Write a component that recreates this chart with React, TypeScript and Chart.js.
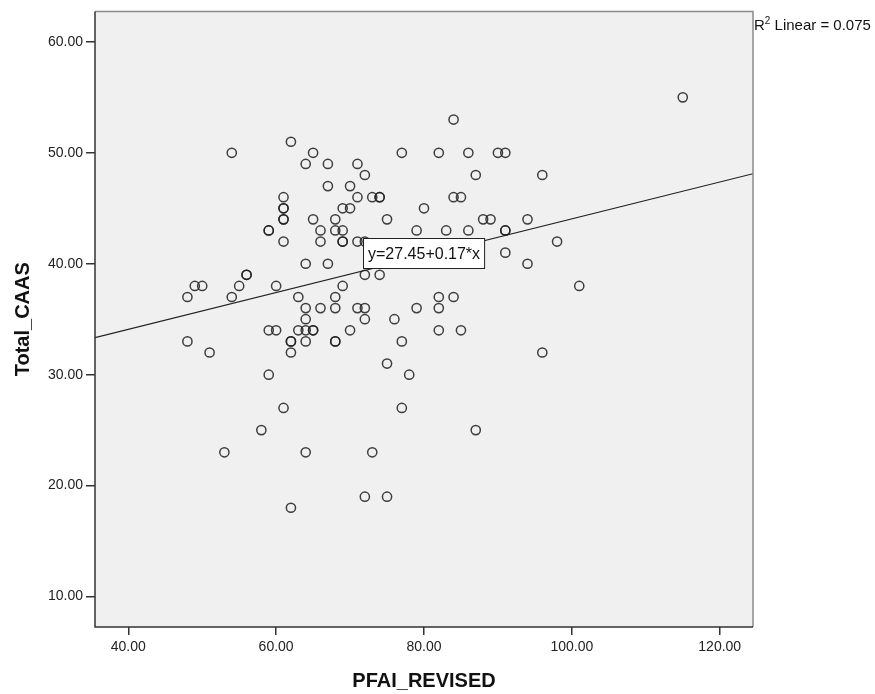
import { useEffect, useRef } from "react";
import { Chart, registerables } from "chart.js";

Chart.register(...registerables);

// PFAI_REVISED (x) and Total_CAAS (y), one entry per respondent
const pfai = [
  115,
  84,
  62,
  54, 65, 77, 82, 86, 90, 91,
  64, 67, 71,
  72, 87, 96,
  67, 70,
  61, 71, 73, 74, 74, 84, 85,
  61, 61, 69, 70, 80,
  61, 61, 65, 68, 75, 88, 89, 94,
  59, 59, 66, 68, 69, 79, 83, 86, 91, 91,
  61, 66, 69, 69, 71, 72, 98,
  91,
  64, 67, 94,
  56, 56, 72, 74,
  49, 50, 55, 60, 69, 101,
  48, 54, 63, 68, 82, 84,
  64, 66, 68, 71, 72, 79, 82,
  64, 72, 76,
  59, 60, 63, 64, 65, 65, 70, 82, 85,
  48, 62, 62, 64, 68, 68, 77,
  51, 62, 96,
  75,
  59, 78,
  61, 77,
  58, 87,
  53, 64, 73,
  72, 75,
  62,
];

const caas = [
  55,
  53,
  51,
  50, 50, 50, 50, 50, 50, 50,
  49, 49, 49,
  48, 48, 48,
  47, 47,
  46, 46, 46, 46, 46, 46, 46,
  45, 45, 45, 45, 45,
  44, 44, 44, 44, 44, 44, 44, 44,
  43, 43, 43, 43, 43, 43, 43, 43, 43, 43,
  42, 42, 42, 42, 42, 42, 42,
  41,
  40, 40, 40,
  39, 39, 39, 39,
  38, 38, 38, 38, 38, 38,
  37, 37, 37, 37, 37, 37,
  36, 36, 36, 36, 36, 36, 36,
  35, 35, 35,
  34, 34, 34, 34, 34, 34, 34, 34, 34,
  33, 33, 33, 33, 33, 33, 33,
  32, 32, 32,
  31,
  30, 30,
  27, 27,
  25, 25,
  23, 23, 23,
  19, 19,
  18,
];

const xTicks = [40, 60, 80, 100, 120];
const yTicks = [10, 20, 30, 40, 50, 60];
const xRange = [35.5, 124.5];
const yRange = [7.25, 62.75];

const fitIntercept = 27.45;
const fitSlope = 0.166;
const equationLabel = "y=27.45+0.17*x";
const rSquaredValue = "0.075";

const FONT = "'Liberation Sans', Arial, sans-serif";

export default function App() {
  const ref = useRef<HTMLCanvasElement>(null);

  useEffect(() => {
    document.body.style.margin = "0";
    if (!ref.current) return;

    const points = pfai.map((x, i) => ({ x, y: caas[i] }));
    const fitLine = xRange.map((x) => ({ x, y: fitIntercept + fitSlope * x }));

    const spssPlugin = {
      id: "spssDecor",
      beforeDraw(chart: any) {
        const { ctx, chartArea: a } = chart;
        ctx.save();
        ctx.fillStyle = "#f0f0f0";
        ctx.fillRect(a.left, a.top, a.right - a.left, a.bottom - a.top);
        ctx.restore();
      },
      afterDatasetsDraw(chart: any) {
        const { ctx, chartArea: a, scales } = chart;
        ctx.save();
        // frame
        ctx.lineWidth = 1.5;
        ctx.strokeStyle = "#8a8a8a";
        ctx.beginPath();
        ctx.moveTo(a.left, a.top);
        ctx.lineTo(a.right, a.top);
        ctx.lineTo(a.right, a.bottom);
        ctx.stroke();
        ctx.strokeStyle = "#333";
        ctx.beginPath();
        ctx.moveTo(a.left, a.top);
        ctx.lineTo(a.left, a.bottom);
        ctx.lineTo(a.right, a.bottom);
        ctx.stroke();

        // equation box on the fit line at the centre of the plot
        const cx = (a.left + a.right) / 2;
        const xv = scales.x.getValueForPixel(cx);
        const cy = scales.y.getPixelForValue(fitIntercept + fitSlope * xv);
        ctx.font = `16px ${FONT}`;
        const tw = ctx.measureText(equationLabel).width;
        const bw = tw + 9;
        const bh = 30;
        const bx = Math.round(cx - bw / 2) + 0.5;
        const by = Math.round(cy - bh / 2) - 2.5;
        ctx.fillStyle = "#ffffff";
        ctx.fillRect(bx, by, bw, bh);
        ctx.lineWidth = 1;
        ctx.strokeStyle = "#222";
        ctx.strokeRect(bx, by, bw, bh);
        ctx.fillStyle = "#111";
        ctx.textAlign = "center";
        ctx.textBaseline = "middle";
        ctx.fillText(equationLabel, bx + bw / 2, by + bh / 2 + 1);
        ctx.restore();
      },
      afterDraw(chart: any) {
        const { ctx, chartArea: a } = chart;
        ctx.save();
        ctx.fillStyle = "#111";
        ctx.textBaseline = "alphabetic";
        ctx.textAlign = "left";
        let x = a.right + 1;
        const base = a.top + 19;
        ctx.font = `15px ${FONT}`;
        ctx.fillText("R", x, base);
        x += ctx.measureText("R").width;
        ctx.font = `10px ${FONT}`;
        ctx.fillText("2", x, base - 6);
        x += ctx.measureText("2").width;
        ctx.font = `15px ${FONT}`;
        ctx.fillText(" Linear = " + rSquaredValue, x, base);
        ctx.restore();
      },
    };

    const chart = new Chart(ref.current, {
      type: "scatter",
      data: {
        datasets: [
          {
            type: "scatter",
            label: "Total_CAAS",
            data: points,
            pointStyle: "circle",
            pointRadius: 4.6,
            pointBorderWidth: 1.5,
            pointBorderColor: "rgba(30,30,30,0.85)",
            pointBackgroundColor: "rgba(0,0,0,0)",
            order: 1,
          },
          {
            type: "line",
            label: "Linear fit",
            data: fitLine,
            borderColor: "#222",
            borderWidth: 1.2,
            pointRadius: 0,
            fill: false,
            order: 2,
          },
        ],
      },
      options: {
        animation: false,
        responsive: true,
        maintainAspectRatio: false,
        layout: { padding: { top: 11, right: 122, left: 0, bottom: 0 } },
        plugins: {
          legend: { display: false },
          tooltip: { enabled: false },
        },
        scales: {
          x: {
            type: "linear",
            min: xRange[0],
            max: xRange[1],
            afterBuildTicks: (s: any) => {
              s.ticks = xTicks.map((v) => ({ value: v }));
            },
            afterFit: (s: any) => {
              s.height = 67;
            },
            ticks: {
              callback: (v: any) => Number(v).toFixed(2),
              font: { family: FONT, size: 14 },
              color: "#222",
              padding: 4,
              maxRotation: 0,
              autoSkip: false,
            },
            grid: {
              drawOnChartArea: false,
              drawTicks: true,
              tickLength: 8,
              color: "#333",
              lineWidth: 1.5,
            },
            border: { display: false },
            title: {
              display: true,
              text: "PFAI_REVISED",
              font: { family: FONT, size: 20, weight: "bold" },
              color: "#111",
              padding: { top: 0, bottom: 1 },
            },
          },
          y: {
            type: "linear",
            min: yRange[0],
            max: yRange[1],
            afterBuildTicks: (s: any) => {
              s.ticks = yTicks.map((v) => ({ value: v }));
            },
            afterFit: (s: any) => {
              s.width = 95;
            },
            ticks: {
              callback: (v: any) => Number(v).toFixed(2),
              font: { family: FONT, size: 14 },
              color: "#222",
              padding: 3,
              autoSkip: false,
            },
            grid: {
              drawOnChartArea: false,
              drawTicks: true,
              tickLength: 9,
              color: "#333",
              lineWidth: 1.5,
            },
            border: { display: false },
            title: {
              display: true,
              text: "Total_CAAS",
              font: { family: FONT, size: 20, weight: "bold" },
              color: "#111",
              padding: { top: 11, bottom: 0 },
            },
          },
        },
      },
      plugins: [spssPlugin],
    });

    return () => chart.destroy();
  }, []);

  return (
    <div style={{ width: 875, height: 694, position: "relative" }}>
      <canvas ref={ref} />
    </div>
  );
}
